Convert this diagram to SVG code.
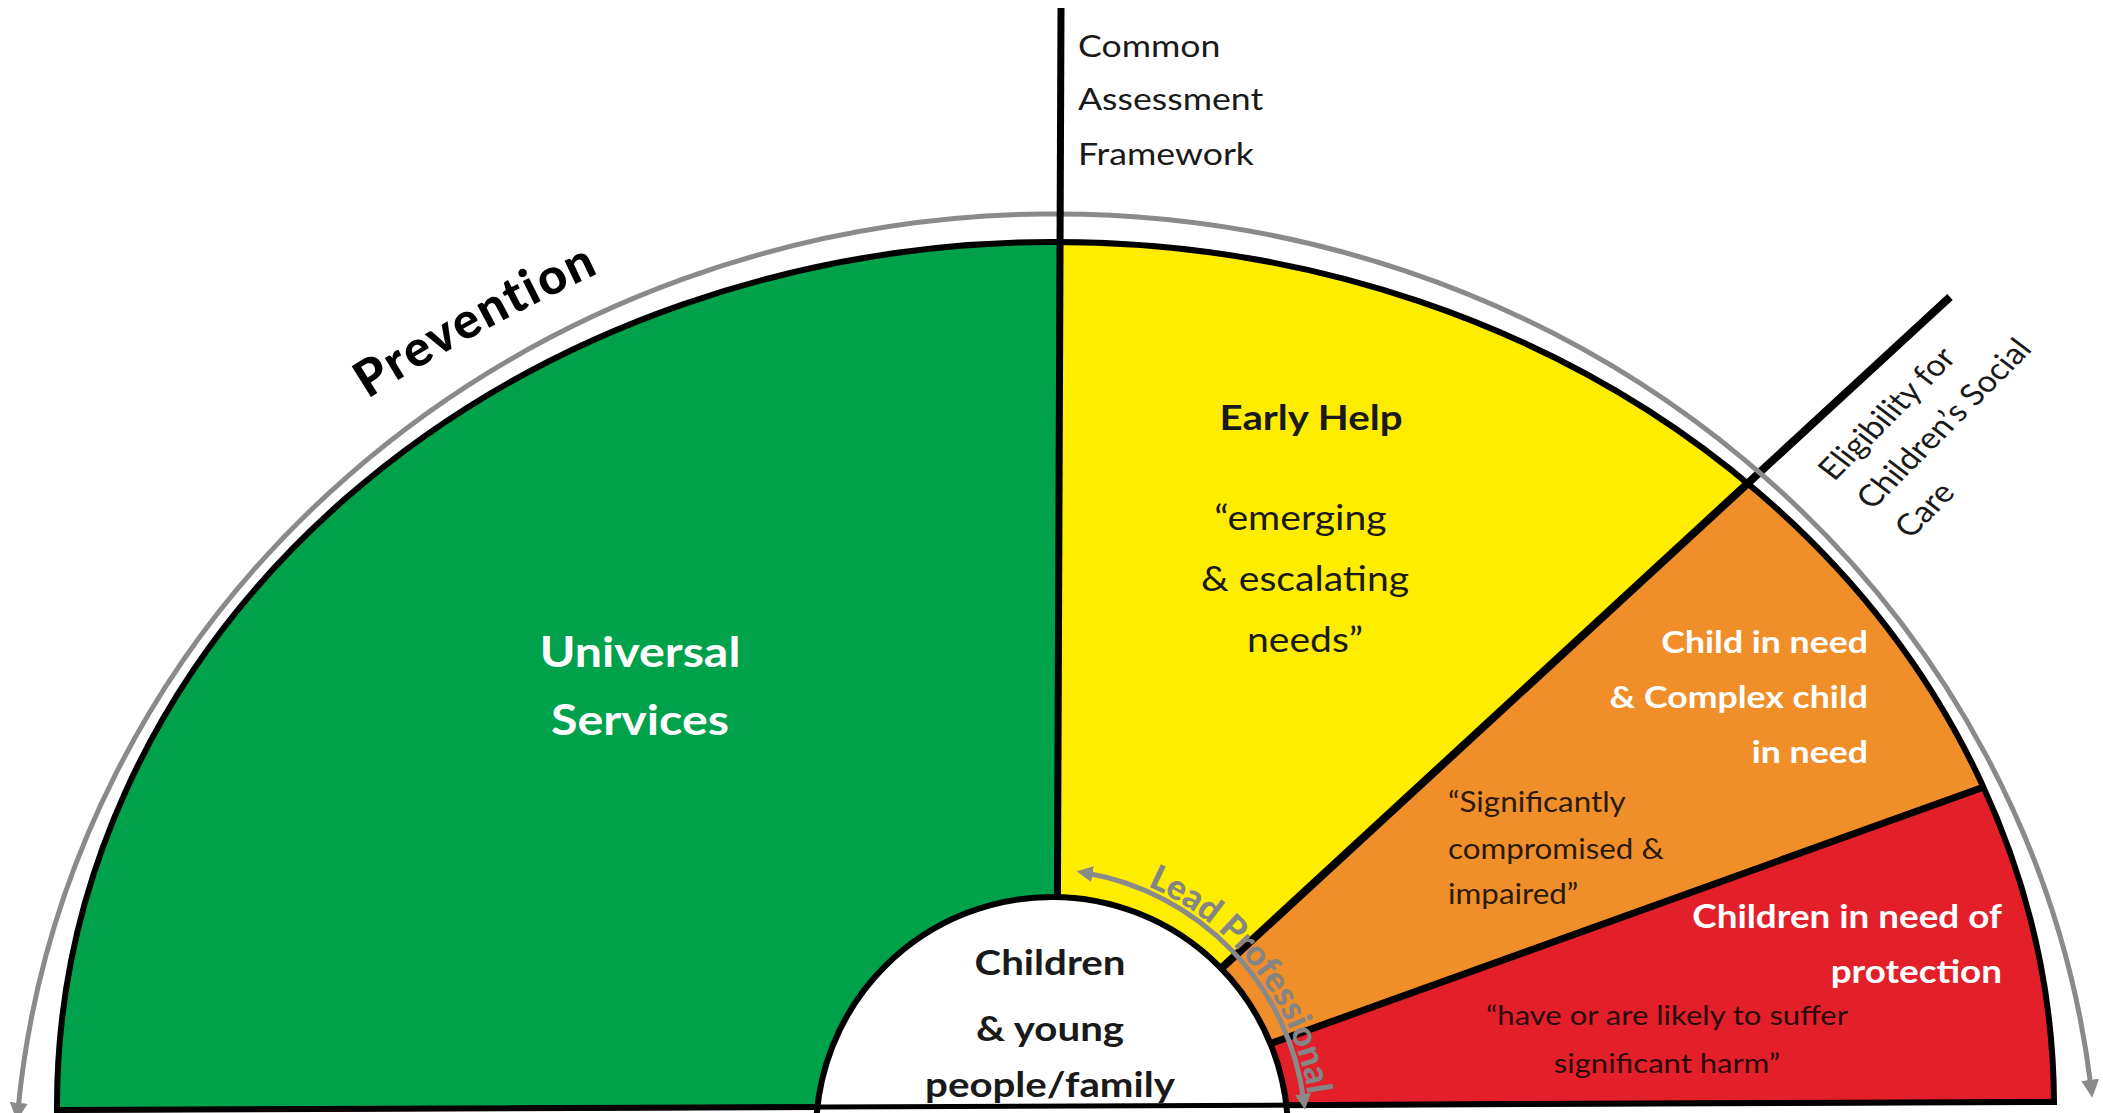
<svg xmlns="http://www.w3.org/2000/svg" width="2103" height="1113" viewBox="0 0 2103 1113">
<style>
.t{font-family:Lato,"Liberation Sans",sans-serif;}
.b{font-weight:bold;}
.w{fill:#ffffff;}
.k{fill:#1a1a1a;}
.blk{stroke:#000;fill:none;stroke-linecap:butt;}
.gray{stroke:#8a8a8a;fill:none;stroke-width:5;}
</style>
<defs>
<clipPath id="fan"><path d="M57,1110 A990,857 0 0 1 2054,1102 Z"/></clipPath>
<marker id="ah" viewBox="0 0 10 10" refX="4" refY="5" markerWidth="18" markerHeight="18" markerUnits="userSpaceOnUse" orient="auto-start-reverse"><path d="M0,0 L10,5 L0,10 Z" fill="#8a8a8a"/></marker>
<marker id="ah2" viewBox="0 0 10 10" refX="4" refY="5" markerWidth="16" markerHeight="16" markerUnits="userSpaceOnUse" orient="auto-start-reverse"><path d="M0,0 L10,5 L0,10 Z" fill="#8a8a8a"/></marker>
<path id="leadPath" d="M1147.6,886.2 A271,271 0 0 1 1310.8,1125.5"/>
<path id="prevPath" d="M368,399 Q485,324 627,260"/>
</defs>
<rect width="2103" height="1113" fill="#fff"/>
<g id="sectors" clip-path="url(#fan)">
<polygon id="universal" points="0,0 1059,0 1055,1121 0,1121" fill="#00a14b"/>
<polygon id="early-help" points="1059,0 2103,0 2103,156 1055,1121" fill="#ffed00"/>
<polygon id="child-in-need" points="2103,156 2103,744 1055,1121" fill="#f08f2a"/>
<polygon id="protection" points="2103,744 2103,1113 1055,1113 1055,1121" fill="#e3202a"/>
<line class="blk" x1="1200" y1="1069" x2="1995" y2="783" stroke-width="7"/>
</g>
<g id="connectors">
<line class="blk" x1="1150" y1="1034" x2="1950" y2="297" stroke-width="8"/>
<path class="blk" d="M57,1110 A990,857 0 0 1 2054,1102 Z" stroke-width="6"/>
<path class="gray" d="M18,1110 A1042,985 0 0 1 2091,1087" marker-start="url(#ah)" marker-end="url(#ah)"/>
<line class="blk" x1="1061" y1="8" x2="1057" y2="1000" stroke-width="7"/>
</g>
<g id="centre">
<circle cx="1052" cy="1133" r="236" fill="#fff" stroke="#000" stroke-width="6"/>
<line class="blk" x1="57" y1="1110" x2="2054" y2="1102" stroke-width="5"/>
<text class="t b k" font-size="35" text-anchor="middle" transform="translate(1050 0) scale(1.15 1)"><tspan x="0" y="975">Children</tspan><tspan x="0" y="1041">&amp; young</tspan><tspan x="0" y="1097">people/family</tspan></text>
</g>
<g id="lead-professional">
<path class="gray" d="M1086.2,873 A265,265 0 0 1 1303.7,1100.3" marker-start="url(#ah2)" marker-end="url(#ah2)"/>
<text class="t" font-size="35" font-weight="900" fill="#858585"><textPath href="#leadPath">Lead Professional</textPath></text>
</g>
<g id="label-common">
<text class="t k" font-size="31" transform="translate(1078 0) scale(1.15 1)"><tspan x="0" y="57">Common</tspan><tspan x="0" y="110">Assessment</tspan><tspan x="0" y="165">Framework</tspan></text>
</g>
<g id="label-prevention">
<text class="t" font-size="50" font-weight="900" fill="#000" letter-spacing="2"><textPath href="#prevPath">Prevention</textPath></text>
</g>
<g id="label-universal">
<text class="t b w" font-size="42" text-anchor="middle" transform="translate(640 0) scale(1.15 1)"><tspan x="0" y="667">Universal</tspan><tspan x="0" y="735">Services</tspan></text>
</g>
<g id="label-early-help">
<text class="t b k" font-size="35" text-anchor="middle" transform="translate(1311 0) scale(1.15 1)"><tspan x="0" y="430">Early Help</tspan></text>
<text class="t k" font-size="34" text-anchor="middle" transform="translate(1305 0) scale(1.15 1)"><tspan x="-4" y="530">“emerging</tspan><tspan x="0" y="591">&amp; escalating</tspan><tspan x="0" y="652">needs”</tspan></text>
</g>
<g id="label-cin">
<text class="t b w" font-size="31" text-anchor="end" transform="translate(1868 0) scale(1.15 1)"><tspan x="0" y="653">Child in need</tspan><tspan x="0" y="708">&amp; Complex child</tspan><tspan x="0" y="763">in need</tspan></text>
<text class="t" font-size="28" fill="#2a1a0c" transform="translate(1448 0) scale(1.12 1)"><tspan x="0" y="812">“Significantly</tspan><tspan x="0" y="859">compromised &amp;</tspan><tspan x="0" y="904">impaired”</tspan></text>
</g>
<g id="label-cp">
<text class="t b w" font-size="32" text-anchor="end" transform="translate(2002 0) scale(1.15 1)"><tspan x="0" y="928">Children in need of</tspan><tspan x="0" y="983">protection</tspan></text>
<text class="t" font-size="27" fill="#2b0a0a" text-anchor="middle" transform="translate(1667 0) scale(1.15 1)"><tspan x="0" y="1025">“have or are likely to suffer</tspan><tspan x="0" y="1073">significant harm”</tspan></text>
</g>
<g id="label-eligibility">
<text class="t k" font-size="30" transform="translate(1834 482) scale(1.15 1) rotate(-49)"><tspan x="0" y="0">Eligibility for</tspan><tspan x="0" y="44">Children’s Social</tspan><tspan x="0" y="88">Care</tspan></text>
</g>
</svg>
